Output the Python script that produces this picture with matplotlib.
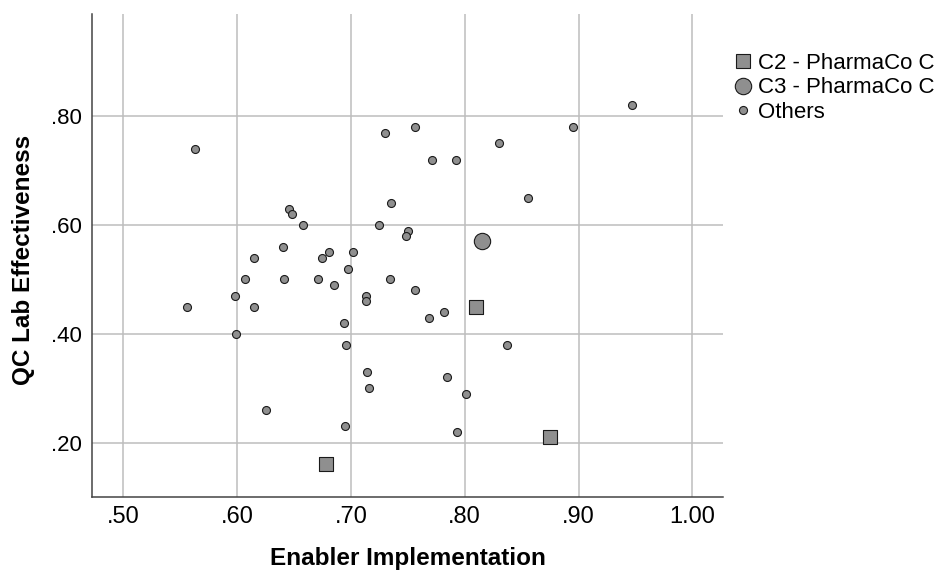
import matplotlib
matplotlib.use("Agg")
import matplotlib.pyplot as plt
from matplotlib.lines import Line2D

plt.rcParams['font.family'] = ['Liberation Sans', 'DejaVu Sans']

# Data
others_x = [0.563, 0.730, 0.756, 0.771, 0.792, 0.830, 0.735, 0.646, 0.648, 0.658,
            0.725, 0.750, 0.748, 0.640, 0.615, 0.681, 0.675, 0.702, 0.697, 0.607,
            0.641, 0.671, 0.734, 0.947, 0.895, 0.856, 0.685, 0.756, 0.598, 0.7135,
            0.713, 0.556, 0.615, 0.782, 0.769, 0.694, 0.599, 0.696, 0.714, 0.784,
            0.716, 0.801, 0.625, 0.695, 0.7935, 0.837]
others_y = [0.74, 0.77, 0.78, 0.72, 0.72, 0.75, 0.64, 0.63, 0.62, 0.60,
            0.60, 0.59, 0.58, 0.56, 0.54, 0.55, 0.54, 0.55, 0.52, 0.50,
            0.50, 0.50, 0.50, 0.82, 0.78, 0.65, 0.49, 0.48, 0.47, 0.47,
            0.46, 0.45, 0.45, 0.44, 0.43, 0.42, 0.40, 0.38, 0.33, 0.32,
            0.30, 0.29, 0.26, 0.23, 0.22, 0.38]
c2_x = [0.810, 0.678, 0.875]
c2_y = [0.45, 0.16, 0.21]
c3_x = [0.8155]
c3_y = [0.57]

x_ticks = [0.5, 0.6, 0.7, 0.8, 0.9, 1.0]
x_ticklabels = ['.50', '.60', '.70', '.80', '.90', '1.00']
y_ticks = [0.2, 0.4, 0.6, 0.8]
y_ticklabels = ['.20', '.40', '.60', '.80']
labels = ['C2 - PharmaCo C', 'C3 - PharmaCo C', 'Others']

fill = '#8f8f8f'
edge = '#1a1a1a'

fig = plt.figure(figsize=(9.42, 5.70), dpi=100)
ax = fig.add_axes([92/942, 1-496.7/570, (723.3-92)/942, (496.7-14)/570])

ax.scatter(others_x, others_y, s=33, marker='o', facecolor=fill, edgecolor=edge,
           linewidth=0.8, zorder=3)
ax.scatter(c2_x, c2_y, s=92, marker='s', facecolor=fill, edgecolor=edge,
           linewidth=0.8, zorder=3)
ax.scatter(c3_x, c3_y, s=138, marker='o', facecolor=fill, edgecolor=edge,
           linewidth=0.8, zorder=3)

ax.set_xlim(0.4725, 1.0272)
ax.set_ylim(0.1007, 0.988)
ax.set_xticks(x_ticks)
ax.set_xticklabels(x_ticklabels, fontsize=17)
ax.set_yticks(y_ticks)
ax.set_yticklabels(y_ticklabels, fontsize=16)
ax.tick_params(axis='both', length=0, colors='#000000')
ax.tick_params(axis='x', pad=7)
ax.tick_params(axis='y', pad=7)

ax.grid(True, color='#bdbdbd', linewidth=1.1, zorder=0)
ax.set_axisbelow(True)
for s in ['top', 'right']:
    ax.spines[s].set_visible(False)
for s in ['left', 'bottom']:
    ax.spines[s].set_color('#444444')
    ax.spines[s].set_linewidth(1.1)

ax.set_xlabel('Enabler Implementation', fontsize=17.5, fontweight='bold', va='center')
ax.xaxis.set_label_coords(0.5, (496.7-558)/482.7)
ax.set_ylabel('QC Lab Effectiveness', fontsize=17.5, fontweight='bold', va='center', ha='center')
ax.yaxis.set_label_coords((23-92)/631.3, (496.7-260)/482.7)

handles = [
    Line2D([], [], linestyle='none', marker='s', markersize=9.6, markerfacecolor=fill,
           markeredgecolor=edge, markeredgewidth=0.8),
    Line2D([], [], linestyle='none', marker='o', markersize=11.8, markerfacecolor=fill,
           markeredgecolor=edge, markeredgewidth=0.8),
    Line2D([], [], linestyle='none', marker='o', markersize=5.8, markerfacecolor=fill,
           markeredgecolor=edge, markeredgewidth=0.8),
]
fig.legend(handles, labels, loc='upper left', bbox_to_anchor=(732/942, 1-53/570),
           frameon=False, fontsize=16, handlelength=1.0, handletextpad=0.15,
           labelspacing=0.15, borderpad=0, borderaxespad=0)

fig.savefig('out.png', dpi=100)
